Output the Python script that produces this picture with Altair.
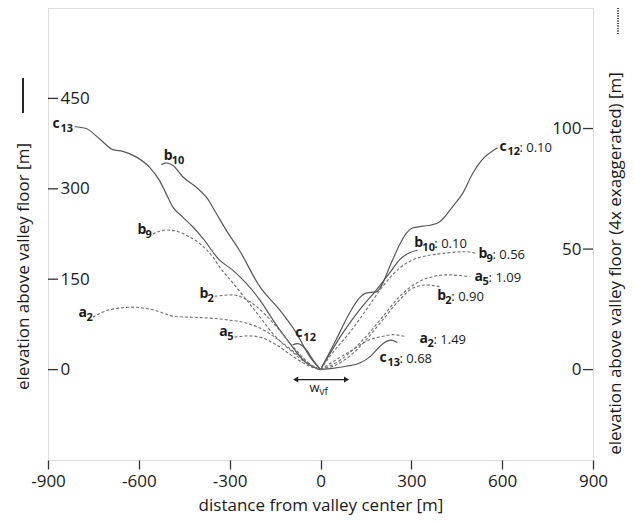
import altair as alt
import pandas as pd

FONT = "Open Sans"

# ---------------- axis ticks ----------------
x_tick_values = [-900, -600, -300, 0, 300, 600, 900]
left_tick_values = [0, 150, 300, 450]
right_tick_values = [0, 50, 100]

# ---------------- solid profiles (true elevation, m) ----------------
c13_left_x = [-812, -774, -730, -686, -653, -609, -565, -532, -510, -488, -455, -422, -389, -334, -290, -245, -201, -158, -102, -47, 0]
c13_left_y = [403, 400, 383, 365, 362, 353, 336, 314, 292, 270, 253, 237, 218, 182, 165, 143, 116, 83, 44, 11, 0]
c13_right_x = [0, 40, 85, 130, 165, 195, 215, 232, 246, 254]
c13_right_y = [0, 2, 5.5, 11, 22, 38, 46, 49, 47, 45]

b10_left_x = [-526, -510, -488, -455, -411, -377, -344, -311, -268, -201, -135, -80, -36, 0]
b10_left_y = [340, 343, 339, 320, 303, 286, 259, 231, 198, 138, 99, 61, 22, 0]
b10_right_x = [0, 74, 129, 184, 228, 261, 294, 321]
b10_right_y = [0, 61, 99, 132, 160, 182, 194, 198]

c12_left_x = [-92, -76, -47, -26, 0]
c12_left_y = [41, 43, 33, 17, 0]
c12_right_x = [0, 52, 96, 129, 151, 184, 238, 261, 283, 304, 337, 366, 393, 436, 469, 502, 532, 585]
c12_right_y = [0, 50, 94, 119, 127, 129, 182, 207, 226, 235, 238, 240, 245, 270, 292, 325, 347, 368]

# ---------------- dashed profiles (4x exaggerated scale, m) ----------------
b9_left_x = [-554, -510, -482, -444, -400, -356, -334, -290, -245, -201, -158, -102, -47, 0]
b9_left_y = [56.2, 57.9, 57.6, 55.8, 52.4, 46.8, 42.7, 36, 29, 22, 15, 8.3, 2.8, 0]
b9_right_x = [0, 40, 96, 151, 205, 261, 304, 404, 481, 514]
b9_right_y = [0, 7, 15.3, 24.8, 34.4, 42.1, 45.5, 48.2, 48.9, 48.2]

b2_left_x = [-350, -290, -268, -212, -146, -91, -25, 0]
b2_left_y = [30.4, 31, 30.4, 26.2, 17.9, 9.6, 1.4, 0]
b2_right_x = [0, 41, 96, 151, 206, 261, 305, 349, 393]
b2_right_y = [0, 1.4, 5.5, 12.4, 20.7, 28.9, 33.8, 35.1, 34.4]

a2_left_x = [-752, -697, -620, -554, -477, -400, -311, -245, -179, -125, -69, -14, 0]
a2_left_y = [21.7, 24.8, 25.9, 24.8, 22, 21.6, 20.7, 19.3, 15.8, 11, 5.5, 0.7, 0]
a2_right_x = [0, 52, 107, 162, 206, 239, 277]
a2_right_y = [0, 4.1, 8.3, 12.4, 13.8, 14.5, 13.8]

a5_left_x = [-284, -234, -191, -146, -91, -36, 0]
a5_left_y = [13.5, 14, 13.1, 10.3, 5.5, 1.4, 0]
a5_right_x = [0, 41, 96, 151, 206, 261, 316, 371, 415, 492]
a5_right_y = [0, 2.1, 6.9, 13.8, 22, 30.3, 35.8, 38.6, 39.3, 38.6]

# ---------------- labels (positions in true-elevation units) ----------------
label_letter = ["c", "b", "b", "b", "a", "a", "c", "c", "b", "b", "a", "b", "a", "c"]
label_sub = ["13", "10", "9", "2", "2", "5", "12", "12", "10", "9", "5", "2", "2", "13"]
label_val = ["", "", "", "", "", "", "", ": 0.10", ": 0.10", ": 0.56", ": 1.09", ": 0.90", ": 1.49", ": 0.68"]
label_x = [-885, -518, -604, -400, -799, -334, -83, 591, 310, 522, 509, 386, 327, 195]
label_y = [407, 355, 231, 126, 94, 63, 61, 369, 210, 192, 154, 122, 51, 20]

# valley-floor width arrow
wvf_x = [-86, 90]
wvf_y = [-16.5, -16.5]


def make(parts):
    frames = []
    for name, xs, ys in parts:
        frames.append(pd.DataFrame({"series": name, "x": xs, "y": ys}))
    return pd.concat(frames, ignore_index=True)


solid_df = make([
    ("c13_L", c13_left_x, c13_left_y), ("c13_R", c13_right_x, c13_right_y),
    ("b10_L", b10_left_x, b10_left_y), ("b10_R", b10_right_x, b10_right_y),
    ("c12_L", c12_left_x, c12_left_y), ("c12_R", c12_right_x, c12_right_y),
])
dashed_df = make([
    ("b9_L", b9_left_x, b9_left_y), ("b9_R", b9_right_x, b9_right_y),
    ("b2_L", b2_left_x, b2_left_y), ("b2_R", b2_right_x, b2_right_y),
    ("a2_L", a2_left_x, a2_left_y), ("a2_R", a2_right_x, a2_right_y),
    ("a5_L", a5_left_x, a5_left_y), ("a5_R", a5_right_x, a5_right_y),
])
labels_df = pd.DataFrame({
    "x": label_x, "y": label_y, "letter": label_letter,
    "sub": label_sub, "val": label_val,
    "n": [len(s) for s in label_sub],
})
left_ticks_df = pd.DataFrame({"y": left_tick_values})
right_ticks_df = pd.DataFrame({"y": right_tick_values})
wvf_df = pd.DataFrame({"x": wvf_x, "y": wvf_y})
wvf_heads = pd.DataFrame({"x": [wvf_x[0] + 4, wvf_x[1] - 4], "y": wvf_y,
                          "shape": ["triangle-left", "triangle-right"]})
wvf_text = pd.DataFrame({"x": [-36], "y": [-30], "t": ["w"], "s": ["vf"]})

W, H = 545, 452
TXT = "#1a1a1a"
LBL = 17
TTL = 17

X = alt.X("x:Q", scale=alt.Scale(domain=[-900, 900], nice=False, zero=False),
          axis=alt.Axis(values=x_tick_values, title="distance from valley center [m]",
                        labelExpr="toString(datum.value)",
                        grid=False, domain=False, tickSize=9, tickColor="#333",
                        tickWidth=1.3, labelPadding=4, labelFontSize=LBL,
                        titleFontSize=TTL, titlePadding=8, labelColor=TXT,
                        titleColor=TXT, titleFontWeight="normal", labelFlush=False))

Y_left = alt.Y("y:Q", scale=alt.Scale(domain=[-150, 600], nice=False, zero=False),
               axis=alt.Axis(orient="left", values=left_tick_values,
                             title="elevation above valley floor [m]",
                             grid=False, domain=False, ticks=False, tickSize=0,
                             labelAlign="left", labelBaseline="middle",
                             labelPadding=-12, labelFontSize=LBL, labelColor=TXT,
                             titleFontSize=TTL, titleColor=TXT, titleFontWeight="normal",
                             titleAngle=270, titleAlign="center", titleBaseline="middle",
                             titleX=-25, titleY=258))

Y_right = alt.Y("y:Q", scale=alt.Scale(domain=[-37.5, 150], nice=False, zero=False),
                axis=alt.Axis(orient="right", values=right_tick_values,
                              title="elevation above valley floor (4x exaggerated) [m]",
                              grid=False, domain=False, ticks=False, tickSize=0,
                              labelAlign="right", labelBaseline="middle",
                              labelPadding=-12, labelFontSize=LBL, labelColor=TXT,
                              titleFontSize=TTL, titleColor=TXT, titleFontWeight="normal",
                              titleAngle=270, titleAlign="center", titleBaseline="middle",
                              titleX=22, titleY=255))

solid = alt.Chart(solid_df).mark_line(color="#575757", strokeWidth=1.2,
                                      interpolate="monotone").encode(
    x=X, y=Y_left, detail="series:N")

lticks = alt.Chart(left_ticks_df).mark_rule(color="#333", strokeWidth=1.3).encode(
    x=alt.value(0), x2=alt.value(10), y=Y_left)

base_txt = dict(font=FONT, align="left", baseline="middle", color=TXT)
letters = alt.Chart(labels_df).mark_text(fontSize=14, fontWeight="bold", **base_txt).encode(
    x=X, y=Y_left, text="letter:N")
subs = alt.Chart(labels_df).mark_text(fontSize=11, fontWeight="bold", dx=8, dy=5, **base_txt).encode(
    x=X, y=Y_left, text="sub:N")
vals1 = alt.Chart(labels_df).transform_filter("datum.n == 1").mark_text(
    fontSize=13, dx=14, dy=1, **base_txt).encode(x=X, y=Y_left, text="val:N")
vals2 = alt.Chart(labels_df).transform_filter("datum.n == 2").mark_text(
    fontSize=13, dx=20, dy=1, **base_txt).encode(x=X, y=Y_left, text="val:N")

arrow = alt.Chart(wvf_df).mark_line(color="#222", strokeWidth=1.3).encode(x=X, y=Y_left)
heads = alt.Chart(wvf_heads).mark_point(filled=True, color="#222", size=35, opacity=1).encode(
    x=X, y=Y_left, shape=alt.Shape("shape:N", scale=None))
w_t = alt.Chart(wvf_text).mark_text(fontSize=13, **base_txt).encode(x=X, y=Y_left, text="t:N")
w_s = alt.Chart(wvf_text).mark_text(fontSize=10, dx=10, dy=4, **base_txt).encode(x=X, y=Y_left, text="s:N")

solid_key = alt.Chart(left_ticks_df).mark_rule(color="#222", strokeWidth=1.2).encode(
    x=alt.value(-25), y=alt.value(70), y2=alt.value(105))

left_layer = alt.layer(solid, lticks, letters, subs, vals1, vals2, arrow, heads, w_t, w_s, solid_key)

dashed = alt.Chart(dashed_df).mark_line(color="#6e6e6e", strokeWidth=1.1, strokeDash=[3, 2],
                                        interpolate="monotone").encode(
    x=X, y=Y_right, detail="series:N")
rticks = alt.Chart(right_ticks_df).mark_rule(color="#333", strokeWidth=1.3).encode(
    x=alt.value(W - 10), x2=alt.value(W), y=Y_right)
dashed_key = alt.Chart(right_ticks_df).mark_rule(color="#333", strokeWidth=1, strokeDash=[1, 1.5]).encode(
    x=alt.value(W + 25), y=alt.value(0), y2=alt.value(27))

right_layer = alt.layer(dashed, rticks, dashed_key)

chart = alt.layer(left_layer, right_layer).resolve_scale(y="independent").properties(
    width=W, height=H, autosize="none",
    padding={"left": 40, "top": 0, "right": 34, "bottom": 56},
).configure_view(stroke="#333", strokeWidth=1.5).configure(font=FONT)

chart.save("out.html", embed_options={"renderer": "svg", "actions": False})
